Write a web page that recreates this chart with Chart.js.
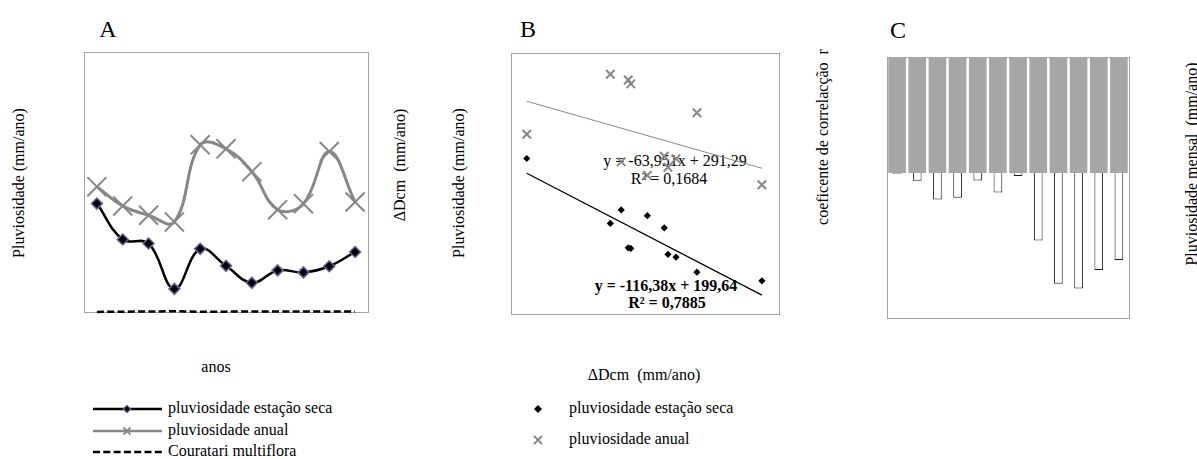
<!DOCTYPE html>
<html lang="pt">
<head>
<meta charset="utf-8">
<title>Pluviosidade e ΔDcm</title>
<script src="https://cdn.jsdelivr.net/npm/chart.js@4"></script>
<style>
  body { margin: 0; background: #fff; }
  #fig { position: relative; width: 1197px; height: 459px; overflow: hidden;
         font-family: "Liberation Serif", "Times New Roman", serif; font-size: 16px; color: #000; }
  .txt { position: absolute; white-space: pre; line-height: 1; }
  .c { transform: translate(-50%, -50%); }
  .v { transform: translate(-50%, -50%) rotate(-90deg); }
  .l { transform: translate(0, -50%); }
  .letra { font-size: 24px; }
  .b { font-weight: bold; }
  .painel { position: absolute; }
  svg { position: absolute; overflow: visible; }
</style>
</head>
<body>
<div id="fig">

  <div class="txt c letra" style="left:108px;top:29px">A</div>
  <div class="txt c letra" style="left:528px;top:29px">B</div>
  <div class="txt c letra" style="left:898px;top:30px">C</div>

  <div class="txt v" style="left:19px;top:183px">Pluviosidade (mm/ano)</div>
  <div class="txt c" style="left:216px;top:367px">anos</div>
  <div class="txt v" style="left:400px;top:165px">ΔDcm  (mm/ano)</div>

  <div class="txt v" style="left:459px;top:183px">Pluviosidade (mm/ano)</div>
  <div class="txt c" style="left:644px;top:375px">ΔDcm  (mm/ano)</div>

  <div class="txt v" style="left:823px;top:137px">coeficente de correlacção  r</div>
  <div class="txt v" style="left:1192px;top:164px">Pluviosidade mensal  (mm/ano)</div>

  <!-- equações das linhas de tendência (ficam por baixo dos marcadores) -->
  <div class="txt c" id="eqAnual" style="left:675px;top:161px"></div>
  <div class="txt c" id="r2Anual" style="left:669px;top:179px"></div>
  <div class="txt c b" id="eqSeca" style="left:666px;top:286px"></div>
  <div class="txt c b" id="r2Seca" style="left:667px;top:303px"></div>

  <div class="painel" style="left:64px;top:32px;width:324px;height:300px"><canvas id="chartA"></canvas></div>
  <div class="painel" style="left:491px;top:33px;width:308px;height:301px"><canvas id="chartB"></canvas></div>
  <div class="painel" style="left:867px;top:37px;width:282px;height:301px"><canvas id="chartC"></canvas></div>

  <!-- legenda A -->
  <svg style="left:93px;top:403px" width="70" height="12">
    <line x1="0" y1="6" x2="69" y2="6" stroke="#000" stroke-width="2.5"/>
    <polygon points="34,2.3 37.7,6 34,9.7 30.3,6" fill="#000" stroke="#65659c" stroke-width="1.2"/>
  </svg>
  <div class="txt l" style="left:168px;top:408px">pluviosidade estação seca</div>
  <svg style="left:93px;top:425px" width="70" height="12">
    <line x1="0" y1="6" x2="69" y2="6" stroke="#878787" stroke-width="2.5"/>
    <path d="M30.5,2.5 L37.5,9.5 M37.5,2.5 L30.5,9.5" stroke="#878787" stroke-width="1.8"/>
  </svg>
  <div class="txt l" style="left:168px;top:430px">pluviosidade anual</div>
  <svg style="left:93px;top:446px" width="70" height="12">
    <line x1="0" y1="6" x2="69" y2="6" stroke="#000" stroke-width="2.5" stroke-dasharray="7,3.3"/>
  </svg>
  <div class="txt l" style="left:168px;top:451px">Couratari multiflora</div>

  <!-- legenda B -->
  <svg style="left:532px;top:403px" width="12" height="12">
    <polygon points="6,2 10,6 6,10 2,6" fill="#000"/>
  </svg>
  <div class="txt l" style="left:569px;top:408px">pluviosidade estação seca</div>
  <svg style="left:532px;top:434px" width="12" height="12">
    <path d="M2,2 L10,10 M10,2 L2,10" stroke="#878787" stroke-width="1.8"/>
  </svg>
  <div class="txt l" style="left:569px;top:439px">pluviosidade anual</div>
</div>

<script>
// série anual (11 anos) - mesma base para os painéis A e B
const anos = ["1", "2", "3", "4", "5", "6", "7", "8", "9", "10", "11"]
const dcm = [0.094, 0.658, 0.814, 1.498, 0.593, 0.700, 1.110, 0.937, 0.985, 0.715, 0.915]
const chuvaSeca = [208.5, 139.5, 131.8, 44.5, 121.5, 88.8, 56.1, 80.0, 76.2, 88.0, 115.5]
const chuvaAnual = [241.0, 204.0, 186.0, 173.3, 321.5, 313.8, 269.9, 196.8, 208.3, 308.6, 211.5]

// linhas de tendência
const tendSeca = { a: -116.38, b: 199.64, r2: 0.7885 }
const tendAnual = { a: -63.951, b: 291.29, r2: 0.1684 }

// painel C - correlação mensal
const meses = ["jan", "fev", "mar", "abr", "mai", "jun", "jul", "ago", "set", "out", "nov", "dez"]
const rMensal = [-0.005, -0.053, -0.182, -0.170, -0.051, -0.134, -0.021, -0.465, -0.763, -0.796, -0.669, -0.600]
const chuvaMensal = [0.8, 0.8, 0.8, 0.8, 0.8, 0.8, 0.8, 0.8, 0.8, 0.8, 0.8, 0.8]

const cinza = "#878787"
const pad = 20


// caixa cinza em volta da área do gráfico
const moldura = {
  id: "moldura",
  beforeDatasetsDraw(chart) {
    let a = chart.chartArea
    let ctx = chart.ctx
    ctx.save()
    ctx.strokeStyle = "#a3a3a3"
    ctx.lineWidth = 1
    ctx.strokeRect(Math.round(a.left) + 0.5, Math.round(a.top) + 0.5,
                   Math.round(a.right - a.left), Math.round(a.bottom - a.top))
    ctx.restore()
  }
}

Chart.defaults.font.family = '"Liberation Serif", serif'
Chart.defaults.animation = false
Chart.defaults.events = []
Chart.defaults.maintainAspectRatio = false
Chart.defaults.plugins.legend.display = false
Chart.defaults.plugins.tooltip.enabled = false
Chart.defaults.layout.padding = pad


function num(v) {
  return String(v).replace(".", ",")
}

function eqTexto(t) {
  let sinal = t.b < 0 ? " - " : " + "
  return "y = " + num(t.a) + "x" + sinal + num(Math.abs(t.b))
}

function retaTend(t) {
  let xMin = Math.min(...dcm)
  let xMax = Math.max(...dcm)
  return [{ x: xMin, y: t.a * xMin + t.b }, { x: xMax, y: t.a * xMax + t.b }]
}


// A: pluviosidade ao longo dos anos
new Chart(document.getElementById("chartA"), {
  type: "line",
  data: {
    labels: anos,
    datasets: [{
      label: "pluviosidade estação seca",
      data: chuvaSeca,
      borderColor: "#000",
      borderWidth: 2.5,
      tension: 0.4,
      pointStyle: "rectRot",
      pointRadius: 5.5,
      pointBackgroundColor: "#000",
      pointBorderColor: "#65659c",
      pointBorderWidth: 1.5
    },
    {
      label: "pluviosidade anual",
      data: chuvaAnual,
      borderColor: cinza,
      borderWidth: 3,
      tension: 0.4,
      pointStyle: "crossRot",
      pointRadius: 13.5,
      pointBorderColor: cinza,
      pointBorderWidth: 2
    },
    {
      label: "Couratari multiflora",
      data: dcm,
      borderColor: "#000",
      borderWidth: 2.5,
      borderDash: [7, 3.3],
      pointRadius: 0,
      clip: 6
    }]
  },
  options: {
    scales: {
      x: { type: "category", offset: true, display: false },
      y: { min: 0, max: 500, display: false }
    }
  },
  plugins: [moldura]
})


// B: pluviosidade x ΔDcm com tendências lineares
new Chart(document.getElementById("chartB"), {
  type: "scatter",
  data: {
    datasets: [{
      label: "pluviosidade estação seca",
      data: dcm.map((x, i) => ({ x: x, y: chuvaSeca[i] })),
      pointStyle: "rectRot",
      pointRadius: 3.6,
      backgroundColor: "#000",
      borderWidth: 0
    },
    {
      label: "pluviosidade anual",
      data: dcm.map((x, i) => ({ x: x, y: chuvaAnual[i] })),
      pointStyle: "crossRot",
      pointRadius: 6,
      borderColor: cinza,
      borderWidth: 2
    },
    {
      label: "tendência seca",
      data: retaTend(tendSeca),
      showLine: true,
      borderColor: "#000",
      borderWidth: 1.3,
      pointRadius: 0
    },
    {
      label: "tendência anual",
      data: retaTend(tendAnual),
      showLine: true,
      borderColor: cinza,
      borderWidth: 1,
      pointRadius: 0
    }]
  },
  options: {
    scales: {
      x: { type: "linear", min: 0, max: 1.6, display: false },
      y: { min: 0, max: 350, display: false }
    }
  },
  plugins: [moldura]
})

document.getElementById("eqSeca").textContent = eqTexto(tendSeca)
document.getElementById("r2Seca").textContent = "R² = " + num(tendSeca.r2)
document.getElementById("eqAnual").textContent = eqTexto(tendAnual)
document.getElementById("r2Anual").textContent = "R² = " + num(tendAnual.r2)


// C: coeficiente de correlação por mês
new Chart(document.getElementById("chartC"), {
  type: "bar",
  data: {
    labels: meses,
    datasets: [{
      label: "r",
      data: rMensal,
      backgroundColor: "#fff",
      borderColor: "#1a1a1a",
      borderWidth: 1,
      barPercentage: 0.43,
      categoryPercentage: 1,
      grouped: false,
      order: 1
    },
    {
      label: "pluviosidade mensal",
      data: chuvaMensal,
      backgroundColor: "#a6a6a6",
      borderWidth: 0,
      barPercentage: 0.875,
      categoryPercentage: 1,
      grouped: false,
      order: 2
    }]
  },
  options: {
    scales: {
      x: { display: false },
      y: { min: -1, max: 0.8, display: false }
    }
  },
  plugins: [moldura]
})
</script>
</body>
</html>
